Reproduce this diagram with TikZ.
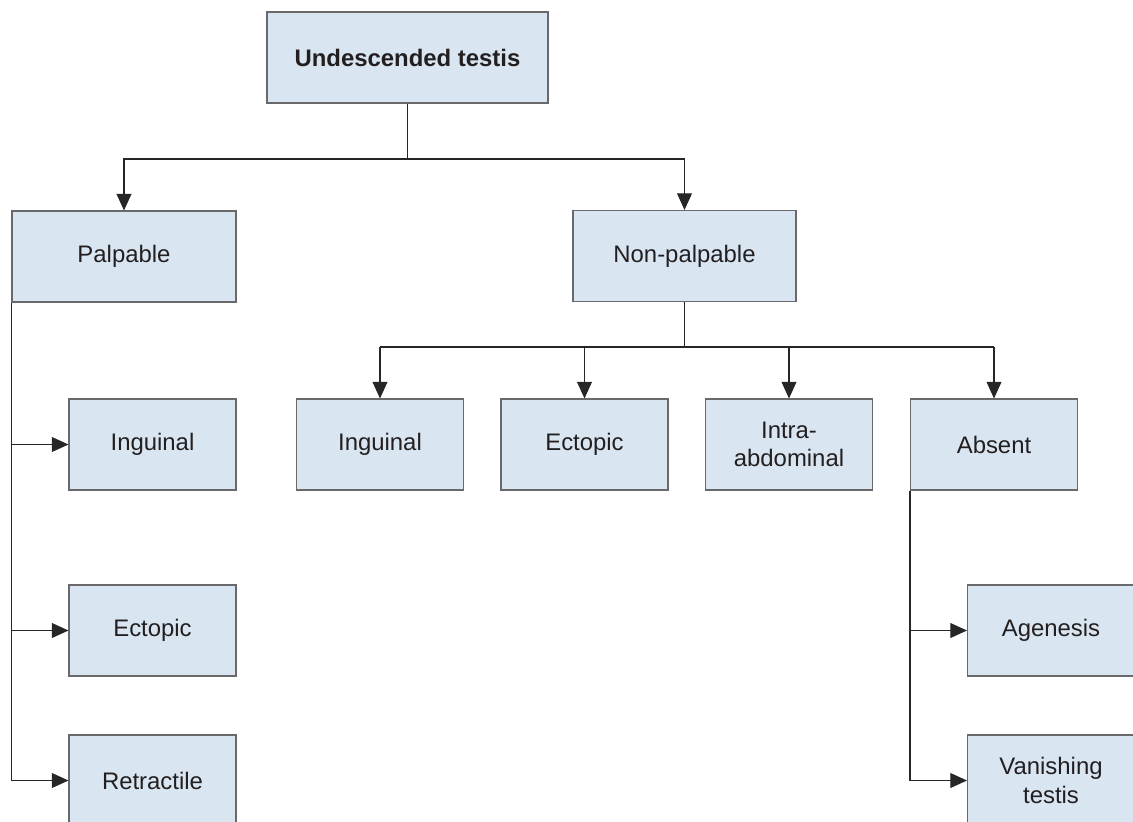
\documentclass[tikz,border=0pt]{standalone}
\usepackage{xcolor}
\usepackage{fontspec}
\setmainfont{Liberation Sans}
\usepackage{tikz}
\usetikzlibrary{arrows.meta, positioning, calc}
\definecolor{boxblue}{RGB}{217, 230, 242}
\definecolor{boxedge}{RGB}{105, 105, 108}
\definecolor{inktext}{RGB}{35, 31, 32}

\begin{document}
\begin{tikzpicture}[
    class/.style={rectangle, draw=boxedge, line width=0.6pt, fill=boxblue, minimum width=3.34cm, minimum height=1.82cm, align=center, text=inktext, font=\fontsize{13.6}{16}\selectfont},
    wire/.style={line width=0.6pt, draw=black!85},
    arrow/.style={wire, -{Triangle[length=9.5pt, width=8.5pt]}}
]
    \useasboundingbox (0,0) rectangle (22.66,-16.42);
    \clip (0,0) rectangle (22.66,-16.42);

    % Root
    \node[class, minimum width=5.62cm] (undesc) at (8.15, -1.15) {\textbf{Undescended testis}};

    % Main split
    \node[class, minimum width=4.48cm] (palp) at (2.48, -5.13) {Palpable};
    \node[class, minimum width=4.46cm] (nonpalp) at (13.69, -5.12) {Non-palpable};

    \coordinate (topbus) at (8.15, -3.18);
    \draw[wire] (undesc.south) -- (topbus);
    \draw[arrow] (topbus) -| (palp);
    \draw[arrow] (topbus) -| (nonpalp);

    % Palpable branch
    \node[class] (palping) at (3.05, -8.89) {Inguinal};
    \node[class] (palpect) at (3.05, -12.61) {Ectopic};
    \node[class] (retract) at (3.05, -15.61) {Retractile};

    \draw[wire] (palp.south west) -- (palp.south west |- retract.west);
    \draw[arrow] (palp.south west |- palping.west) -- (palping.west);
    \draw[arrow] (palp.south west |- palpect.west) -- (palpect.west);
    \draw[arrow] (palp.south west |- retract.west) -- (retract.west);

    % Non-palpable branch
    \node[class] (nping) at (7.6, -8.89) {Inguinal};
    \node[class] (npect) at (11.69, -8.89) {Ectopic};
    \node[class] (intra) at (15.78, -8.89) {Intra-\\abdominal};
    \node[class] (absent) at (19.88, -8.89) {Absent};

    \coordinate (lowbus) at (13.69, -6.94);
    \draw[wire] (nonpalp.south) -- (lowbus);
    \draw[wire] (nping |- lowbus) -- (absent |- lowbus);
    \draw[arrow] (nping |- lowbus) -- (nping);
    \draw[arrow] (npect |- lowbus) -- (npect);
    \draw[arrow] (intra |- lowbus) -- (intra);
    \draw[arrow] (absent |- lowbus) -- (absent);

    % Absent branch
    \node[class] (agenesis) at (21.02, -12.61) {Agenesis};
    \node[class] (vanish) at (21.02, -15.61) {Vanishing\\testis};

    \draw[wire] (absent.south west) -- (absent.south west |- vanish.west);
    \draw[arrow] (absent.south west |- agenesis.west) -- (agenesis.west);
    \draw[arrow] (absent.south west |- vanish.west) -- (vanish.west);

\end{tikzpicture}
\end{document}
